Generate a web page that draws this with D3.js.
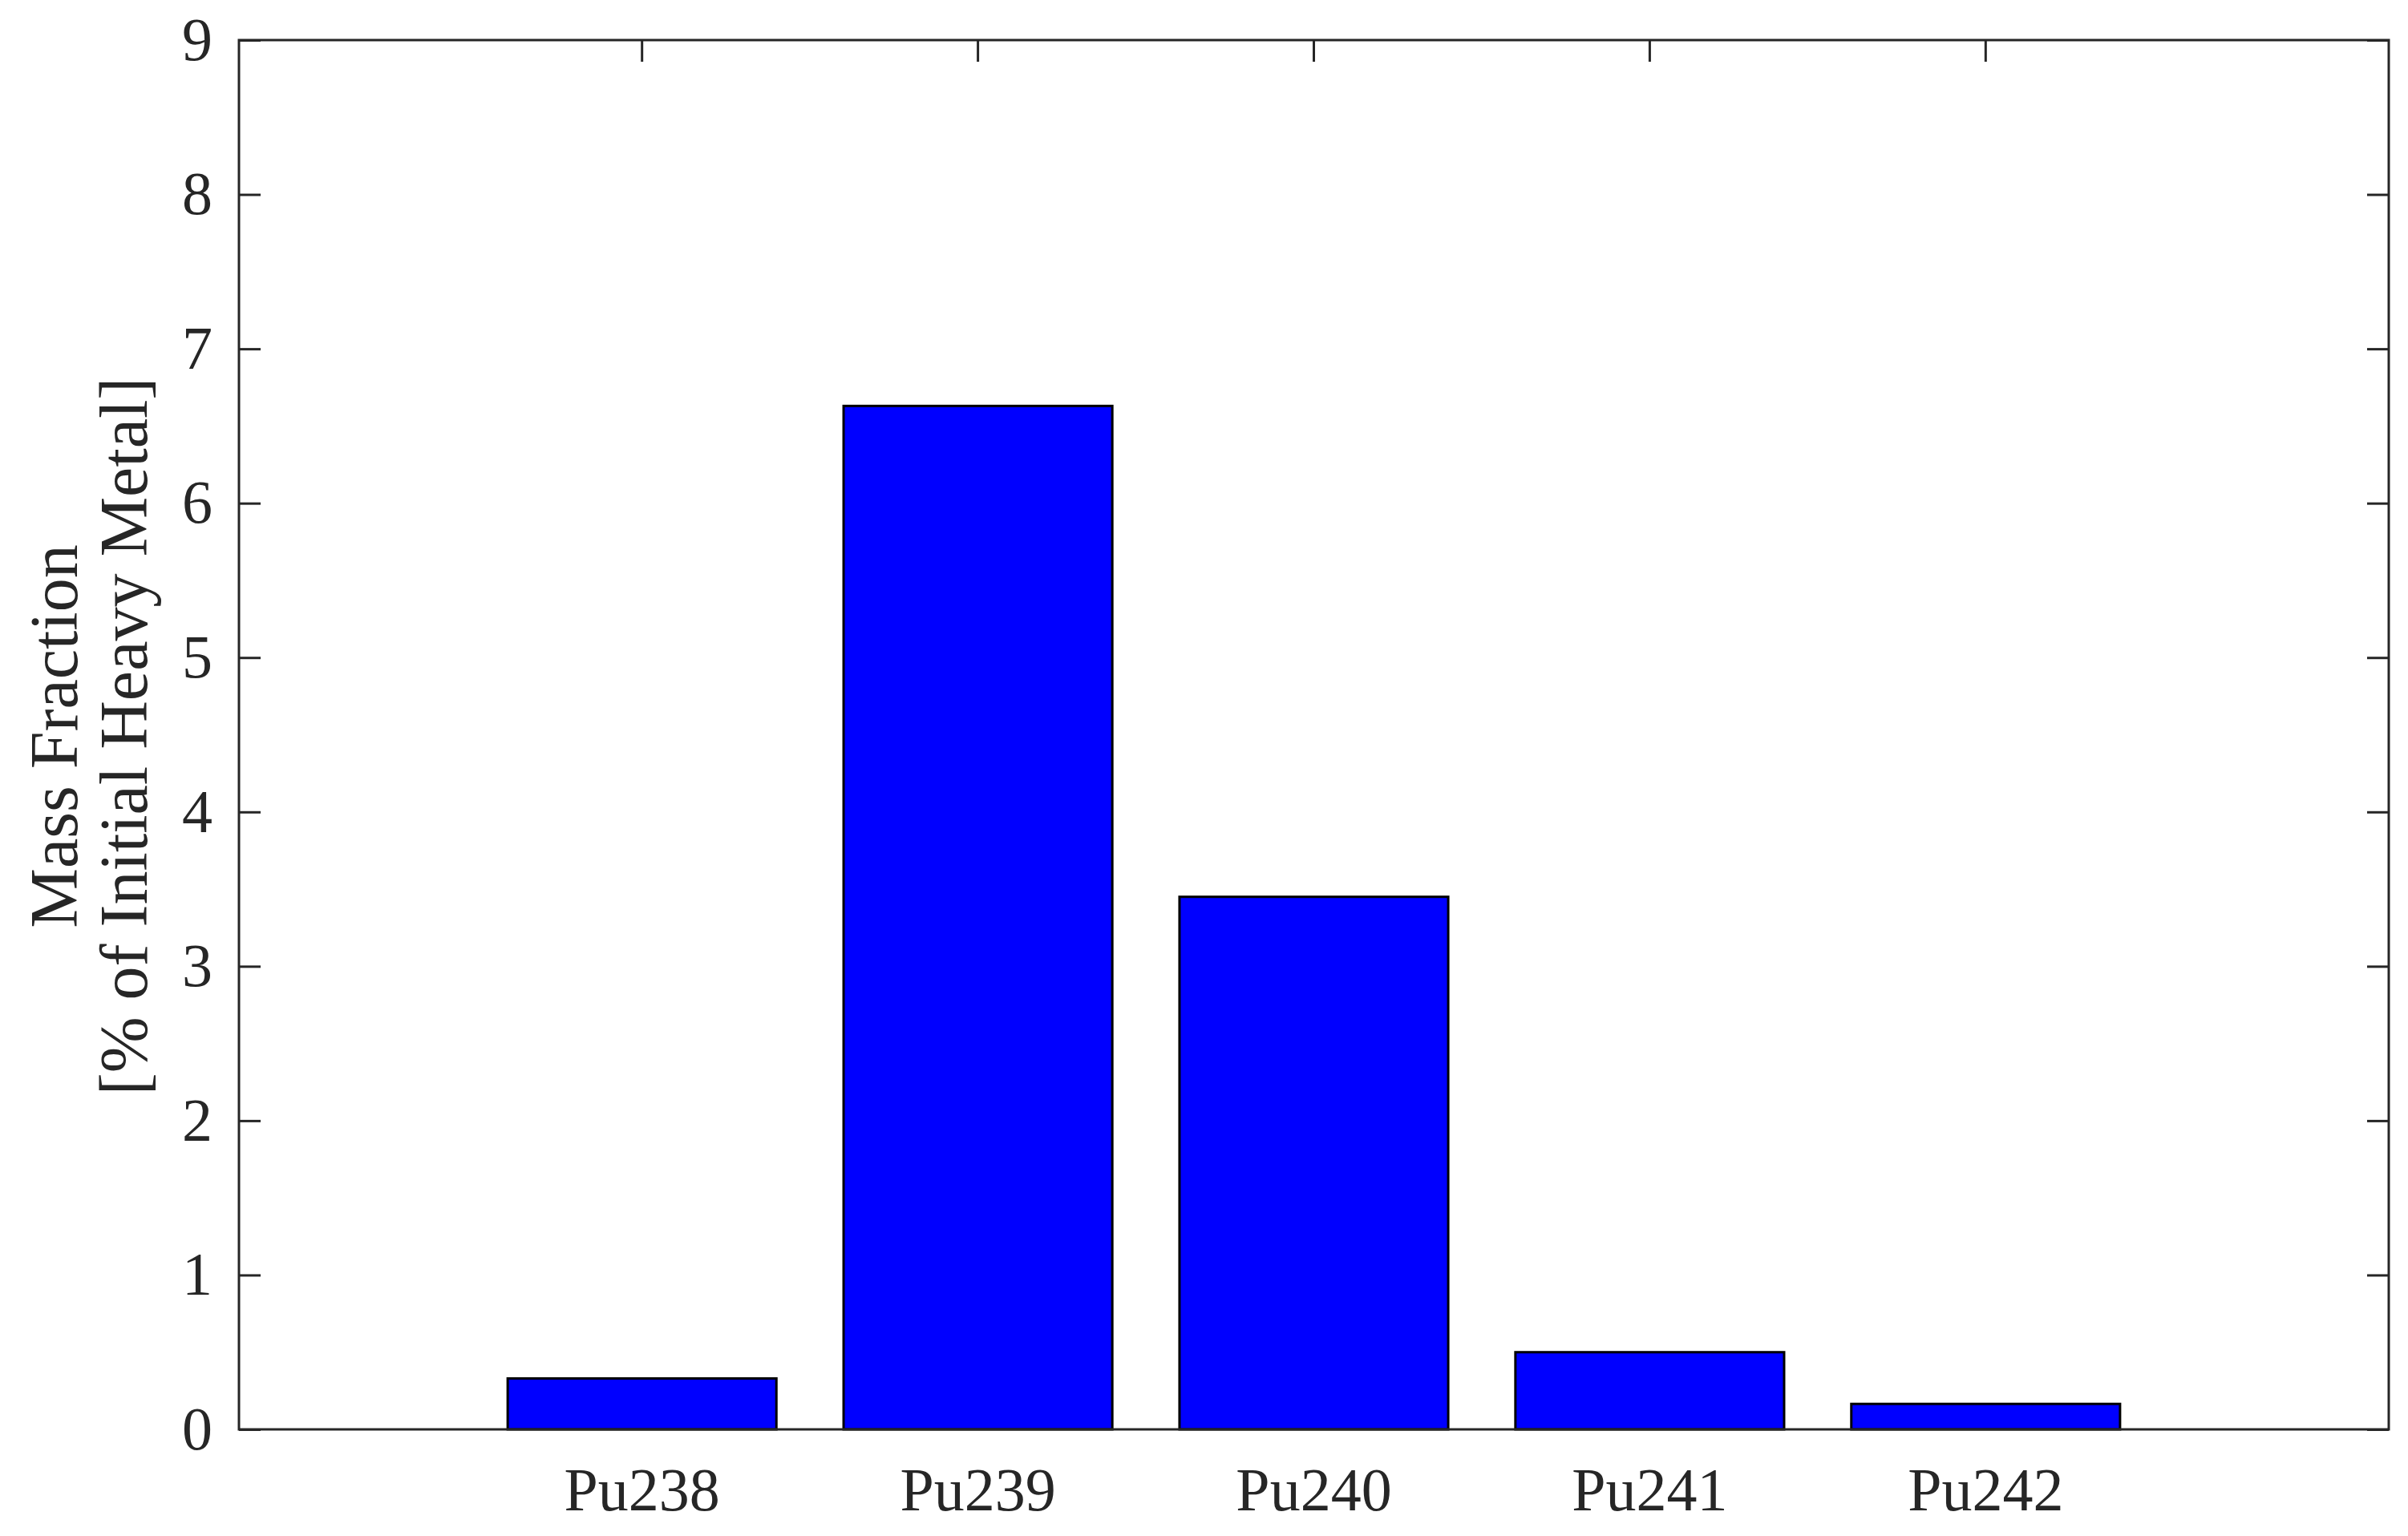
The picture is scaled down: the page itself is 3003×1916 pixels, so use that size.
<!DOCTYPE html>
<html>
<head>
<meta charset="utf-8">
<script src="https://cdn.jsdelivr.net/npm/d3@7"></script>
<style>
    body { margin: 0; background: #fff; }
    svg text { font-family: "Liberation Serif", "Times New Roman", serif; fill: #262626; }
</style>
</head>
<body>
<div class="graph"></div>
<script>
// isotopes and their mass fraction (% of initial heavy metal)
const isotopes = ["Pu238", "Pu239", "Pu240", "Pu241", "Pu242"];
const massFraction = [0.33, 6.63, 3.45, 0.50, 0.165];
const yTicks = [0, 1, 2, 3, 4, 5, 6, 7, 8, 9];
const yLabelLines = ["Mass Fraction", "[% of Initial Heavy Metal]"];

const outerWidth = 3003,
    outerHeight = 1916,
    margin = { top: 50, right: 24, bottom: 133, left: 298 },
    width = outerWidth - margin.left - margin.right,
    height = outerHeight - margin.top - margin.bottom;

const axisColor = "#262626";
const fontSize = 76;
const labelSize = 84;
const tickLen = 27;

const root = d3.select(".graph").append("svg")
    .attr("width", outerWidth)
    .attr("height", outerHeight);

root.append("rect")
    .attr("width", outerWidth)
    .attr("height", outerHeight)
    .attr("fill", "#fff");

const svg = root.append("g")
    .attr("transform", `translate(${margin.left},${margin.top})`);

const x = d3.scaleBand()
    .domain(isotopes)
    .range([0, width])
    .paddingInner(0.2)
    .paddingOuter(0.8);

const y = d3.scaleLinear()
    .domain([0, 9])
    .range([height, 0]);

// ticks point inward on all four sides (box on)
function styleAxis(g) {
    g.select(".domain").remove();
    g.selectAll(".tick line").attr("stroke", axisColor).attr("stroke-width", 3);
    g.selectAll(".tick text")
        .attr("fill", axisColor)
        .style("font-size", fontSize + "px");
}

svg.append("g")
    .attr("class", "y-axis")
    .call(d3.axisLeft(y).tickValues(yTicks).tickSize(-tickLen).tickPadding(33).tickFormat(d3.format("d")))
    .call(styleAxis);

svg.append("g")
    .attr("transform", `translate(${width},0)`)
    .call(d3.axisRight(y).tickValues(yTicks).tickSize(-tickLen).tickFormat(""))
    .call(styleAxis);

svg.append("g")
    .call(d3.axisTop(x).tickSize(-tickLen).tickFormat(""))
    .call(styleAxis);

svg.append("g")
    .attr("class", "x-axis")
    .attr("transform", `translate(0,${height})`)
    .call(d3.axisBottom(x).tickSize(-tickLen).tickPadding(47))
    .call(styleAxis);

// bars
svg.selectAll(".bar")
    .data(isotopes)
    .enter().append("rect")
    .attr("class", "bar")
    .attr("x", d => x(d))
    .attr("width", x.bandwidth())
    .attr("y", (d, i) => y(massFraction[i]))
    .attr("height", (d, i) => height - y(massFraction[i]))
    .attr("fill", "#0000ff")
    .attr("stroke", "#000")
    .attr("stroke-width", 3);

// axes box
svg.append("rect")
    .attr("width", width)
    .attr("height", height)
    .attr("fill", "none")
    .attr("stroke", axisColor)
    .attr("stroke-width", 3);

// y label, two lines
const yLabel = svg.append("text")
    .attr("transform", `translate(${67 - margin.left},${height / 2 + 2}) rotate(-90)`)
    .attr("text-anchor", "middle")
    .style("font-size", labelSize + "px");

yLabel.selectAll("tspan")
    .data(yLabelLines)
    .enter().append("tspan")
    .attr("x", 0)
    .attr("dy", (d, i) => i === 0 ? "0.35em" : "1.03em")
    .text(d => d);
</script>
</body>
</html>
